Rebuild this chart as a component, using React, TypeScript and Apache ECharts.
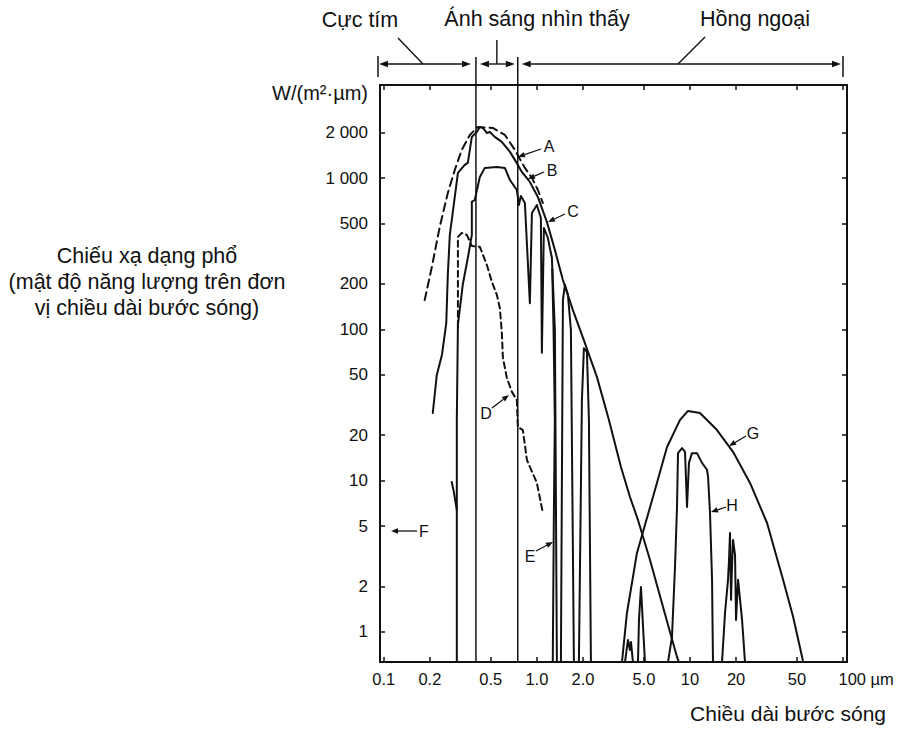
import React, { useEffect, useRef } from "react";
import * as echarts from "echarts";

// ---------- axes (wavelength in µm, irradiance in W/(m²·µm)) ----------
const xTickValues = [0.1, 0.2, 0.5, 1, 2, 5, 10, 20, 50, 100];
const xTickLabels = ["0.1", "0.2", "0.5", "1.0", "2.0", "5.0", "10", "20", "50", "100"];
const yTickValues = [1, 2, 5, 10, 20, 50, 100, 200, 500, 1000, 2000];
const yTickLabels = ["1", "2", "5", "10", "20", "50", "100", "200", "500", "1 000", "2 000"];
const xRange = [0.0945, 106];
const yRange = [0.633, 4120];
const bandEdges = [0.4, 0.75];
const bandNames = ["Cực tím", "Ánh sáng nhìn thấy", "Hồng ngoại"];

// ---------- curves: [wavelength µm, irradiance] ----------
const curveA: number[][] = [
  [0.185, 156], [0.206, 258], [0.232, 475], [0.262, 797], [0.291, 1131], [0.323, 1535],
  [0.365, 1927], [0.411, 2177], [0.516, 2143], [0.618, 1927], [0.718, 1535], [0.835, 1167],
  [0.928, 1002], [1.015, 834], [1.094, 684],
];
const curveB: number[][] = [
  [0.209, 28], [0.222, 50], [0.24, 68], [0.256, 110], [0.262, 229], [0.27, 421], [0.282, 588],
  [0.305, 1080], [0.338, 1222], [0.354, 1259], [0.376, 1870], [0.405, 2017], [0.424, 2177],
  [0.444, 2143], [0.471, 1986], [0.493, 2017], [0.531, 1870], [0.59, 1733], [0.667, 1489],
  [0.718, 1318], [0.798, 1097], [0.9, 942], [1.015, 750], [1.162, 513], [1.311, 335],
  [1.479, 212], [1.719, 134], [2.059, 81], [2.466, 48.5], [2.955, 25.2], [3.54, 12.3],
  [4.055, 7.8], [4.573, 5.5], [5.48, 2.99], [6.665, 1.46], [8.225, 0.684], [8.47, 0.63],
];
const curveC: number[][] = [
  [0.3, 0.63], [0.3, 25.2], [0.305, 107], [0.328, 197], [0.354, 297], [0.376, 421], [0.376, 695],
  [0.393, 716], [0.424, 1017], [0.457, 1167], [0.548, 1184], [0.618, 1167], [0.667, 970],
  [0.74, 834], [0.763, 664], [0.786, 762], [0.835, 684], [0.9, 149], [0.928, 588], [1.0, 664],
  [1.062, 545], [1.078, 70], [1.111, 468], [1.18, 402], [1.253, 297], [1.311, 99], [1.351, 0.63],
];
const curveCBand1: number[][] = [
  [1.435, 0.63], [1.479, 156], [1.524, 197], [1.595, 169], [1.668, 99], [1.745, 0.63],
];
const curveCBand2: number[][] = [
  [1.881, 0.63], [1.968, 34.1], [2.028, 75], [2.122, 71], [2.187, 25.2], [2.254, 0.63],
];
const curveCBand3: number[][] = [
  [3.759, 0.63], [3.934, 0.885], [4.055, 0.76], [4.116, 0.859], [4.242, 0.63],
];
const curveCBand4: number[][] = [
  [4.573, 0.63], [4.642, 1.2], [4.783, 1.98], [4.929, 1.11], [5.08, 0.63],
];
const curveD: number[][] = [
  [0.305, 104], [0.305, 408], [0.323, 434], [0.349, 421], [0.376, 356], [0.424, 351],
  [0.471, 267], [0.508, 206], [0.548, 169], [0.573, 138], [0.59, 96], [0.6, 65], [0.637, 47.7],
  [0.687, 38.6], [0.74, 34.1], [0.751, 22.6], [0.81, 21.6], [0.861, 13.7], [1.0, 9.66], [1.094, 6.12],
];
const curveE: number[][] = [[1.27, 0.63], [1.29, 5.5], [1.31, 25], [1.285, 99], [1.26, 250]];
const curveEUv: number[][] = [[0.278, 9.8], [0.287, 8.4], [0.3, 6.4]];
const curveG: number[][] = [
  [3.593, 0.63], [3.874, 1.335], [4.504, 3.33], [5.73, 7.8], [7.08, 16.7], [8.61, 25.2],
  [9.705, 28.9], [11.62, 28.0], [15.01, 21.6], [19.1, 15.5], [24.66, 9.66], [31.86, 5.25],
  [40.53, 2.21], [47.13, 1.26], [53.96, 0.684], [54.8, 0.63],
];
const curveH: number[][] = [
  [7.18, 0.63], [7.625, 0.927], [7.98, 2.69], [8.225, 6.7], [8.35, 15.2], [8.87, 16.4],
  [9.275, 15.5], [9.56, 6.7], [9.845, 13.1], [10.3, 15.2], [11.11, 15.2], [11.98, 13.1],
  [12.91, 11.8], [13.12, 10.6], [13.51, 6.12], [13.93, 2.21], [14.13, 0.63],
];
const curveH2: number[][] = [
  [16.18, 0.63], [16.93, 1.335], [17.71, 2.21], [17.98, 2.99], [18.25, 4.51], [18.53, 1.63],
  [18.82, 2.77], [19.1, 4.06], [19.68, 3.23], [19.98, 1.2], [20.6, 2.21], [21.88, 1.2], [22.87, 0.63],
];

const INK = "#111111";
const FONT = "'Liberation Sans', Arial, Helvetica, sans-serif";
const lg = (v: number) => Math.log10(v);

function lineSeries(name: string, data: number[][], dash?: number[]) {
  return {
    name,
    type: "line",
    xAxisIndex: 0,
    yAxisIndex: 0,
    data: data.map(([x, y]) => [lg(x), lg(y)]),
    symbol: "none",
    showSymbol: false,
    clip: true,
    silent: true,
    lineStyle: { color: INK, width: 2, type: dash ? dash : "solid", cap: "round", join: "round" },
    z: 3,
  };
}

function fmt(values: number[], labels: string[]) {
  return (v: number) => {
    const i = values.findIndex((t) => Math.abs(lg(t) - v) < 1e-6);
    if (i < 0) return "";
    if (i === values.length - 1 && labels === xTickLabels) return "{a|" + labels[i] + "}{b| µm}";
    return labels[i];
  };
}

function arrow(x1: number, y1: number, x2: number, y2: number, len = 9, w = 3.2, lw = 1.4) {
  const dx = x2 - x1, dy = y2 - y1, d = Math.hypot(dx, dy);
  const ux = dx / d, uy = dy / d;
  const bx = x2 - ux * len, by = y2 - uy * len;
  return [
    { type: "line", z: 100, shape: { x1, y1, x2: bx, y2: by }, style: { stroke: INK, lineWidth: lw } },
    {
      type: "polygon", z: 100,
      shape: { points: [[x2, y2], [bx - uy * w, by + ux * w], [bx + uy * w, by - ux * w]] },
      style: { fill: INK },
    },
  ];
}

function text(str: string, x: number, y: number, size: number, align = "center", lineHeight?: number) {
  return {
    type: "text", z: 100, x, y,
    style: {
      text: str, fill: INK, fontSize: size, fontFamily: FONT,
      align, verticalAlign: "middle", textAlign: align, textVerticalAlign: "middle",
      lineHeight: lineHeight || size * 1.2,
    },
  };
}

export default function App() {
  const ref = useRef<HTMLDivElement>(null);
  useEffect(() => {
    const el = ref.current!;
    const chart = echarts.init(el, null, { renderer: "svg" });
    const axisLine = { show: true, onZero: false, lineStyle: { color: INK, width: 2 } };
    const xt = xTickValues.map(lg);
    const yt = yTickValues.map(lg);
    const option: any = {
      animation: false,
      backgroundColor: "#ffffff",
      grid: { left: 380, top: 85, width: 467, height: 577, show: false },
      xAxis: [
        {
          type: "value", position: "bottom", min: lg(xRange[0]), max: lg(xRange[1]),
          axisLine, splitLine: { show: false },
          axisTick: { show: true, inside: true, length: 5, customValues: xt, lineStyle: { color: INK, width: 1.5 } },
          axisLabel: {
            show: true, customValues: xt, formatter: fmt(xTickValues, xTickLabels),
            color: INK, fontSize: 16.5, fontFamily: FONT, margin: 8,
            rich: { a: { fontSize: 16.5, fontFamily: FONT, color: INK, padding: [0, 0, 0, 46] }, b: { fontSize: 16.5, fontFamily: FONT, color: INK } },
          },
        },
        {
          type: "value", position: "top", min: lg(xRange[0]), max: lg(xRange[1]),
          axisLine, splitLine: { show: false },
          axisTick: { show: true, inside: true, length: 5, customValues: xt, lineStyle: { color: INK, width: 1.5 } },
          axisLabel: { show: false },
        },
      ],
      yAxis: [
        {
          type: "value", position: "left", min: lg(yRange[0]), max: lg(yRange[1]),
          axisLine, splitLine: { show: false },
          axisTick: { show: true, inside: true, length: 5, customValues: yt, lineStyle: { color: INK, width: 1.5 } },
          axisLabel: {
            show: true, customValues: yt, formatter: fmt(yTickValues, yTickLabels),
            color: INK, fontSize: 17, fontFamily: FONT, margin: 12,
          },
        },
        {
          type: "value", position: "right", min: lg(yRange[0]), max: lg(yRange[1]),
          axisLine, splitLine: { show: false },
          axisTick: { show: true, inside: true, length: 5, customValues: yt, lineStyle: { color: INK, width: 1.5 } },
          axisLabel: { show: false },
        },
      ],
      series: [
        lineSeries("A", curveA, [8, 5]),
        lineSeries("B", curveB),
        lineSeries("C", curveC),
        lineSeries("C1", curveCBand1),
        lineSeries("C2", curveCBand2),
        lineSeries("C3", curveCBand3),
        lineSeries("C4", curveCBand4),
        lineSeries("D", curveD, [6, 4]),
        lineSeries("E", curveE),
        lineSeries("E2", curveEUv),
        lineSeries("G", curveG),
        lineSeries("H", curveH),
        lineSeries("H2", curveH2),
      ],
    };
    chart.setOption(option);

    const px = (v: number) => chart.convertToPixel({ xAxisIndex: 0 }, lg(v)) as number;
    const py = (v: number) => chart.convertToPixel({ yAxisIndex: 0 }, lg(v)) as number;
    const xL = px(xRange[0]), xR = px(xRange[1]);
    const yB = py(yRange[0]);
    const x1 = px(bandEdges[0]), x2 = px(bandEdges[1]);
    const yBand = 64;
    const g: any[] = [];
    // band separators
    [x1, x2].forEach((x) => g.push({ type: "line", z: 90, shape: { x1: x, y1: 57, x2: x, y2: yB }, style: { stroke: INK, lineWidth: 1.5 } }));
    // bracket ends
    g.push({ type: "line", z: 100, shape: { x1: xL - 2, y1: 56, x2: xL - 2, y2: 77 }, style: { stroke: INK, lineWidth: 1.5 } });
    g.push({ type: "line", z: 100, shape: { x1: xR - 4, y1: 56, x2: xR - 4, y2: 77 }, style: { stroke: INK, lineWidth: 1.5 } });
    // band arrows
    const seg = (a: number, b: number) => {
      const m = (a + b) / 2;
      g.push(...arrow(m, yBand, a, yBand), ...arrow(m, yBand, b, yBand));
    };
    seg(xL - 1, x1 - 5);
    seg(x1 + 4, x2 - 3);
    seg(x2 + 4, xR - 6);
    // leaders and band names
    g.push({ type: "line", z: 100, shape: { x1: 398, y1: 38, x2: 423, y2: yBand }, style: { stroke: INK, lineWidth: 1.4 } });
    const vm = (x1 + x2) / 2;
    g.push({ type: "line", z: 100, shape: { x1: vm, y1: 40, x2: vm, y2: yBand }, style: { stroke: INK, lineWidth: 1.4 } });
    g.push({ type: "line", z: 100, shape: { x1: 705, y1: 37, x2: 678, y2: yBand }, style: { stroke: INK, lineWidth: 1.4 } });
    g.push(text(bandNames[0], 360, 20, 21.5));
    g.push(text(bandNames[1], 537, 19, 21.5));
    g.push(text(bandNames[2], 755, 19, 21.5));
    // axis titles
    g.push(text("W/(m²·µm)", 368, 93, 20, "right"));
    g.push(text("Chiếu xạ dạng phổ\n(mật độ năng lượng trên đơn\nvị chiều dài bước sóng)", 147, 282, 21.5, "center", 26));
    g.push(text("Chiều dài bước sóng", 886, 713, 21, "right"));
    // curve annotations
    const notes = [
      { t: "A", tx: 549, ty: 146, a: [541, 149, 518, 157] },
      { t: "B", tx: 552, ty: 170, a: [544, 172, 528, 179] },
      { t: "C", tx: 573, ty: 211, a: [565, 214, 548, 222] },
      { t: "D", tx: 486, ty: 413, a: [492, 408, 509, 395] },
      { t: "E", tx: 530, ty: 556, a: [536, 551, 553, 542] },
      { t: "F", tx: 424, ty: 531, a: [417, 531, 391, 531] },
      { t: "G", tx: 753, ty: 433, a: [746, 436, 729, 446] },
      { t: "H", tx: 732, ty: 505, a: [726, 507, 711, 512] },
    ];
    notes.forEach((n) => {
      g.push(text(n.t, n.tx, n.ty, 16));
      g.push(...arrow(n.a[0], n.a[1], n.a[2], n.a[3], 7, 2.8, 1.3));
    });
    chart.setOption({ graphic: g });
    return () => chart.dispose();
  }, []);
  return (
    <div
      ref={ref}
      style={{ position: "fixed", left: 0, top: 0, width: 897, height: 732, background: "#fff" }}
    />
  );
}
